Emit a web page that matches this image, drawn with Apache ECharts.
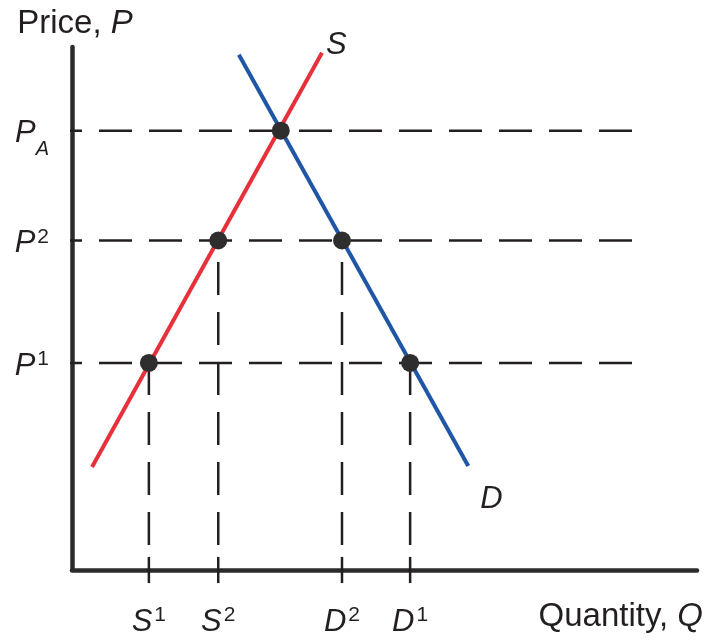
<!DOCTYPE html>
<html><head><meta charset="utf-8">
<script src="https://cdn.jsdelivr.net/npm/echarts@6/dist/echarts.min.js"></script>
<style>html,body{margin:0;padding:0;background:#fff}#c{width:721px;height:644px}</style>
</head><body><div id="c"></div>
<script>
// ---- data ----
const supplyQ = [3.2, 40.0];
const supplyP = [19.7, 98.9];
const demandQ = [26.7, 63.4];
const demandP = [98.5, 19.9];
const pointQ = [12.3, 23.4, 33.4, 43.2, 54.1];
const pointP = [39.6, 63.0, 84.0, 63.0, 39.6];
const priceLevels = [39.6, 63.0, 84.0];
const priceBase = ['P', 'P', 'P'];
const priceMark = ['1', '2', 'A'];
const priceMarkType = ['sup', 'sup', 'sub'];
const quantityLevels = [12.3, 23.4, 43.2, 54.1];
const quantityPrice = [39.6, 63.0, 63.0, 39.6];
const quantityBase = ['S', 'S', 'D', 'D'];
const quantityMark = ['1', '2', '2', '1'];

// ---- layout constants ----
const GUIDE_RIGHT = 89.6, GUIDE_LEFT = -1.92, GUIDE_BOTTOM = 4.78, TICK_HALF = 2.5;
const INK = '#231f20';
const FONT = '"Liberation Sans", Arial, sans-serif';

const rich = {
  m: { fontFamily: FONT, fontStyle: 'italic', fontSize: 31, color: INK, lineHeight: 30, padding: [6, 0, 0, 0] },
  sup: { fontFamily: FONT, fontSize: 21, color: INK, verticalAlign: 'top', lineHeight: 21, padding: [1, 0, 0, 2] },
  sub: { fontFamily: FONT, fontStyle: 'italic', fontSize: 20, color: INK, verticalAlign: 'top', lineHeight: 19, padding: [24, 0, 0, 0] }
};

const zip = (a, b) => a.map((v, i) => [v, b[i]]);
const guideStyle = { color: INK, width: 2.5, type: [33, 17] };
const series = [];
priceLevels.forEach(p => series.push({
  type: 'line', data: [[GUIDE_RIGHT, p], [GUIDE_LEFT, p]], symbol: 'none', clip: false, silent: true,
  lineStyle: guideStyle, z: 1
}));
quantityLevels.forEach((q, i) => series.push({
  type: 'line', data: [[q, GUIDE_BOTTOM], [q, quantityPrice[i]]], symbol: 'none', clip: false, silent: true,
  lineStyle: guideStyle, z: 1
}));
quantityLevels.forEach(q => series.push({
  type: 'line', data: [[q, TICK_HALF], [q, -TICK_HALF]], symbol: 'none', clip: false, silent: true,
  lineStyle: { color: INK, width: 2.5 }, z: 1
}));
series.push({
  type: 'line', name: 'S', data: zip(supplyQ, supplyP), symbol: 'none', clip: false,
  lineStyle: { color: '#e8303a', width: 4 }, z: 3,
  endLabel: { show: true, formatter: 'S', offset: [-4, -7], fontFamily: FONT, fontStyle: 'italic', fontSize: 31, color: INK }
});
series.push({
  type: 'line', name: 'D', data: zip(demandQ, demandP), symbol: 'none', clip: false,
  lineStyle: { color: '#1f56a5', width: 4 }, z: 3,
  endLabel: { show: true, formatter: 'D', offset: [4, 33], fontFamily: FONT, fontStyle: 'italic', fontSize: 31, color: INK }
});
series.push({
  type: 'scatter', data: zip(pointQ, pointP), symbolSize: 18,
  itemStyle: { color: '#2e2e2e', opacity: 1 }, z: 5
});

const chart = echarts.init(document.getElementById('c'), null, { renderer: 'canvas' });
chart.setOption({
  animation: false,
  backgroundColor: '#ffffff',
  grid: { left: 72, right: 24, top: 47, bottom: 74, containLabel: false },
  xAxis: {
    type: 'value', min: 0, max: 100,
    axisLine: { show: true, onZero: false, lineStyle: { color: '#2b2b2b', width: 4.5 } },
    axisTick: { show: false }, splitLine: { show: false },
    axisLabel: {
      customValues: quantityLevels, margin: 34,
      formatter: v => { const i = quantityLevels.indexOf(v); return '{m|' + quantityBase[i] + '}{sup|' + quantityMark[i] + '}'; },
      rich
    },
    name: 'Quantity, {i|Q}', nameLocation: 'end', nameGap: 6,
    nameTextStyle: {
      fontFamily: FONT, fontSize: 33, color: INK, align: 'right', verticalAlign: 'top', padding: [30, 0, 0, 0],
      rich: { i: { fontFamily: FONT, fontSize: 33, fontStyle: 'italic', color: INK } }
    }
  },
  yAxis: {
    type: 'value', min: 0, max: 100,
    axisLine: { show: true, onZero: false, lineStyle: { color: '#2b2b2b', width: 4.5 } },
    axisTick: { show: false }, splitLine: { show: false },
    axisLabel: {
      customValues: priceLevels, margin: 23,
      formatter: v => { const i = priceLevels.indexOf(v); return '{m|' + priceBase[i] + '}{' + priceMarkType[i] + '|' + priceMark[i] + '}'; },
      rich
    },
    name: 'Price, {i|P}', nameLocation: 'end', nameGap: 7,
    nameTextStyle: {
      fontFamily: FONT, fontSize: 33, color: INK, padding: [0, 0, 0, 6],
      rich: { i: { fontFamily: FONT, fontSize: 33, fontStyle: 'italic', color: INK } }
    }
  },
  series
});
</script>
</body></html>
